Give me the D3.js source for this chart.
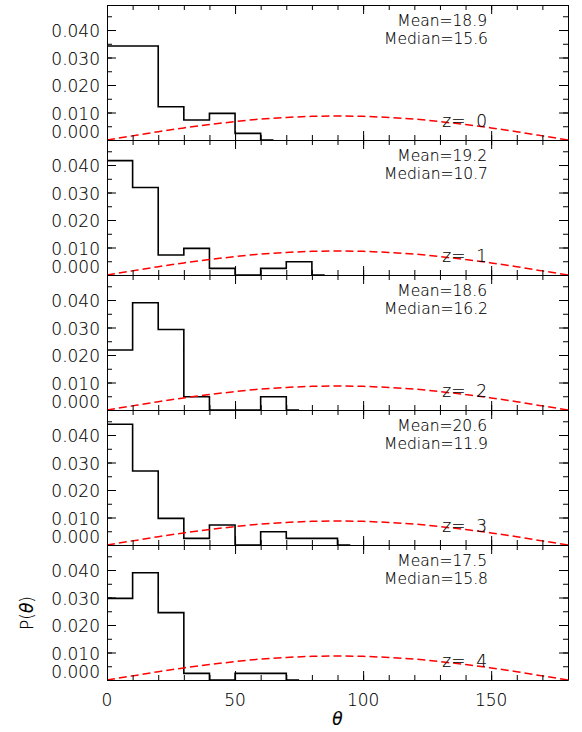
<!DOCTYPE html>
<html>
<head>
<meta charset="utf-8">
<script src="https://cdn.jsdelivr.net/npm/d3@7"></script>
<style>
  html, body { margin: 0; padding: 0; background: #fff; }
  svg text { font-family: "DejaVu Sans ExtraLight", "DejaVu Sans", sans-serif; font-weight: 200;
             fill: #000; stroke: #000; stroke-width: 0.12; }
</style>
</head>
<body>
<svg id="chart" width="582" height="732"></svg>
<script>
// ---- data ----
const redshifts = [0, 1, 2, 3, 4];
const means = ["18.9", "19.2", "18.6", "20.6", "17.5"];
const medians = ["15.6", "10.7", "16.2", "11.9", "15.8"];
const binEdges = [0, 10, 20, 30, 40, 50, 60, 70, 80, 90];
const histZ0 = [0.0342, 0.0342, 0.0121, 0.0073, 0.0097, 0.0024, 0];
const histZ1 = [0.0416, 0.0318, 0.0073, 0.0097, 0.0024, 0, 0.0024, 0.0048, 0];
const histZ2 = [0.0218, 0.0390, 0.0293, 0.0048, 0, 0, 0.0048, 0];
const histZ3 = [0.0439, 0.0269, 0.0097, 0.0024, 0.0073, 0, 0.0048, 0.0024, 0.0024, 0];
const histZ4 = [0.0297, 0.0390, 0.0245, 0.0024, 0, 0.0024, 0.0024, 0];
const histEnds = [65, 85, 75, 95, 75];
const curveTheta = [0,10,20,30,40,50,60,70,80,90,100,110,120,130,140,150,160,170,180];
const curveP = [0, 0.0015, 0.0030, 0.0044, 0.0056, 0.0067, 0.0076, 0.0082, 0.0086, 0.0087,
                0.0086, 0.0082, 0.0076, 0.0067, 0.0056, 0.0044, 0.0030, 0.0015, 0];
const xMajorTicks = [0, 50, 100, 150];
const xMinorTicks = d3.range(0, 181, 10);
const yMajorTicks = [0, 0.01, 0.02, 0.03, 0.04];
const yMinorTicks = [0, 0.005, 0.01, 0.015, 0.02, 0.025, 0.03, 0.035, 0.04, 0.045];
const yTickLabels = ["0.000", "0.010", "0.020", "0.030", "0.040"];
const xTickLabels = ["0", "50", "100", "150"];
const hists = [histZ0, histZ1, histZ2, histZ3, histZ4];

// ---- layout ----
const left = 107, right = 568, top0 = 5, panelH = 135;
const svg = d3.select("#chart");
const x = d3.scaleLinear().domain([0, 180]).range([left, right]);
const fs = 17;

redshifts.forEach((z, i) => {
  const pt = top0 + i * panelH, pb = pt + panelH;
  const y = d3.scaleLinear().domain([0, 0.0491]).range([pb, pt]);
  const g = svg.append("g");

  // histogram
  const h = hists[i];
  const pts = h.map((v, k) => [binEdges[k], v]);
  pts.push([histEnds[i], h[h.length - 1]]);
  g.append("path")
    .attr("d", d3.line().x(d => x(d[0])).y(d => y(d[1])).curve(d3.curveStepAfter)(pts))
    .attr("fill", "none").attr("stroke", "#000").attr("stroke-width", 1.6);

  // red dashed reference curve
  g.append("path")
    .attr("d", d3.line().x((d, k) => x(curveTheta[k])).y(d => y(d)).curve(d3.curveNatural)(curveP))
    .attr("fill", "none").attr("stroke", "#ff0000").attr("stroke-width", 1.5)
    .attr("stroke-dasharray", "8,4");

  // axes: minor and major ticks, inward on all sides
  const axes = [
    [d3.axisBottom(x), `translate(0,${pb})`, xMinorTicks, xMajorTicks],
    [d3.axisTop(x), `translate(0,${pt})`, xMinorTicks, xMajorTicks],
    [d3.axisLeft(y), `translate(${left},0)`, yMinorTicks, yMajorTicks],
    [d3.axisRight(y), `translate(${right},0)`, yMinorTicks, yMajorTicks]
  ];
  axes.forEach(([ax, tr, minor, major]) => {
    const ag = g.append("g").attr("transform", tr)
      .call(ax.tickValues(minor).tickSize(-5).tickSizeOuter(0).tickFormat(""));
    ag.selectAll("text").remove();
    const ag2 = g.append("g").attr("transform", tr)
      .call(ax.tickValues(major).tickSize(-9).tickSizeOuter(0).tickFormat(""));
    ag2.select(".domain").remove();
    ag2.selectAll("text").remove();
    ag.selectAll("path, line").attr("stroke", "#000").attr("stroke-width", 1);
    ag2.selectAll("line").attr("stroke", "#000").attr("stroke-width", 1);
  });

  // y tick labels
  yMajorTicks.forEach((v, k) => {
    g.append("text")
      .attr("x", left - 7).attr("y", y(v) + (v === 0 ? -7 : 2))
      .attr("text-anchor", "end").attr("dominant-baseline", "middle")
      .attr("font-size", fs).text(yTickLabels[k]);
  });

  // annotations
  g.append("text").attr("x", 487).attr("y", pt + 21).attr("text-anchor", "end")
    .attr("font-size", 15.5).text("Mean=" + means[i]);
  g.append("text").attr("x", 488).attr("y", pt + 39).attr("text-anchor", "end")
    .attr("font-size", 15.5).text("Median=" + medians[i]);
  g.append("text").attr("x", 487).attr("y", pt + 122).attr("text-anchor", "end")
    .attr("font-size", fs).attr("xml:space", "preserve").style("white-space", "pre")
    .text("z=  " + z);
});

// x tick labels
const bottom = top0 + 5 * panelH;
xMajorTicks.forEach((v, k) => {
  svg.append("text").attr("x", x(v)).attr("y", bottom + 26)
    .attr("text-anchor", "middle").attr("font-size", fs).text(xTickLabels[k]);
});

// axis titles
svg.append("text").attr("x", x(90)).attr("y", 725).attr("text-anchor", "middle")
  .attr("font-size", fs).attr("font-style", "italic").text("θ");
const yl = svg.append("text").attr("transform", "translate(33,613) rotate(-90)")
  .attr("text-anchor", "middle").attr("font-size", fs);
yl.append("tspan").text("P(");
yl.append("tspan").attr("font-style", "italic").text("θ");
yl.append("tspan").text(")");
</script>
</body>
</html>
